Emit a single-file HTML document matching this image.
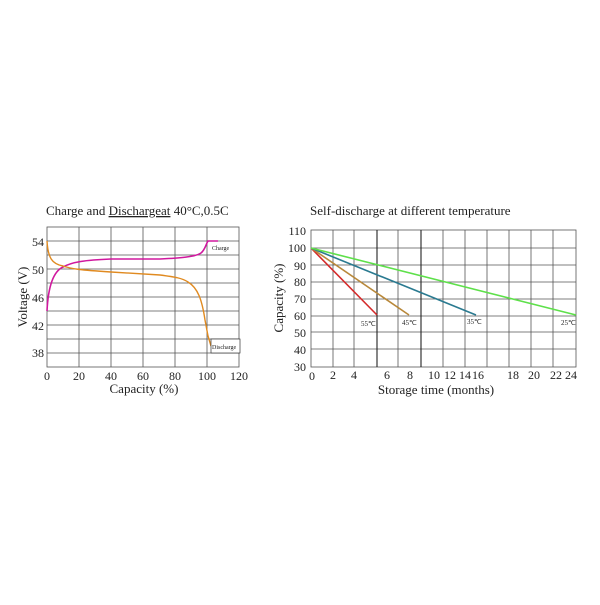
<!DOCTYPE html>
<html><head><style>
body{margin:0;background:#fff;width:600px;height:600px;overflow:hidden}
svg text{font-family:"Liberation Serif",serif;fill:#222}
</style></head><body>
<svg width="600" height="600" viewBox="0 0 600 600">
<text x="46" y="215" font-size="13">Charge and <tspan text-decoration="underline">Dischargeat</tspan> 40°C,0.5C</text>
<g stroke="#555" stroke-width="0.8">
<rect x="47" y="227" width="192" height="140" fill="none"/>
<line x1="79" y1="227" x2="79" y2="367"/><line x1="111" y1="227" x2="111" y2="367"/>
<line x1="143" y1="227" x2="143" y2="367"/><line x1="175" y1="227" x2="175" y2="367"/>
<line x1="207" y1="227" x2="207" y2="367"/>
<line x1="47" y1="241" x2="239" y2="241"/><line x1="47" y1="255" x2="239" y2="255"/>
<line x1="47" y1="269" x2="239" y2="269"/><line x1="47" y1="283" x2="239" y2="283"/>
<line x1="47" y1="297" x2="239" y2="297"/><line x1="47" y1="311" x2="239" y2="311"/>
<line x1="47" y1="325" x2="239" y2="325"/><line x1="47" y1="339" x2="239" y2="339"/>
<line x1="47" y1="353" x2="239" y2="353"/>
</g>
<path d="M47,311 C48,290 52,272 63,267 C72,262 85,260 111,259 L160,259 C180,258 195,257 201,253 C205,250 206,244 208,241 L218,241" fill="none" stroke="#d0189e" stroke-width="1.6"/>
<path d="M47,241 C48,258 52,264 63,266 C72,269 80,270 111,272 L160,275 C175,277 182,278 188,282 C198,288 202,300 205,320 L208,336 L211,346" fill="none" stroke="#e08a20" stroke-width="1.4"/>
<rect x="211" y="339" width="29" height="14" fill="#fff" stroke="#333" stroke-width="0.7"/>
<text x="212" y="349" font-size="6">Discharge</text>
<text x="212" y="250" font-size="6">Charge</text>
<g font-size="12" text-anchor="end">
<text x="44" y="246">54</text><text x="44" y="274">50</text><text x="44" y="302">46</text><text x="44" y="330">42</text><text x="44" y="357">38</text>
</g>
<g font-size="12" text-anchor="middle">
<text x="47" y="380">0</text><text x="79" y="380">20</text><text x="111" y="380">40</text><text x="143" y="380">60</text><text x="175" y="380">80</text><text x="207" y="380">100</text><text x="239" y="380">120</text>
<text x="144" y="393" font-size="13">Capacity (%)</text>
<text transform="translate(27,297) rotate(-90)" font-size="13">Voltage (V)</text>
</g>

<text x="310" y="215" font-size="13">Self-discharge at different temperature</text>
<g stroke="#555" stroke-width="0.8">
<rect x="311" y="230" width="265" height="137" fill="none"/>
<line x1="311" y1="248" x2="576" y2="248"/><line x1="311" y1="265" x2="576" y2="265"/>
<line x1="311" y1="282" x2="576" y2="282"/><line x1="311" y1="299" x2="576" y2="299"/>
<line x1="311" y1="316" x2="576" y2="316"/><line x1="311" y1="332" x2="576" y2="332"/>
<line x1="311" y1="349" x2="576" y2="349"/>
<line x1="333" y1="230" x2="333" y2="367"/><line x1="354" y1="230" x2="354" y2="367"/>
<line x1="377" y1="230" x2="377" y2="367" stroke="#222" stroke-width="1.1"/><line x1="398" y1="230" x2="398" y2="367"/>
<line x1="421" y1="230" x2="421" y2="367" stroke="#222" stroke-width="1.1"/><line x1="443" y1="230" x2="443" y2="367"/>
<line x1="465" y1="230" x2="465" y2="367"/><line x1="487" y1="230" x2="487" y2="367"/>
<line x1="509" y1="230" x2="509" y2="367"/><line x1="531" y1="230" x2="531" y2="367"/>
<line x1="553" y1="230" x2="553" y2="367"/>
</g>
<g stroke-width="1.6" fill="none">
<line x1="311" y1="248" x2="377" y2="315" stroke="#d42a2a"/>
<line x1="311" y1="248" x2="409" y2="315" stroke="#b8883a"/>
<line x1="311" y1="248" x2="476" y2="315" stroke="#2a7a90"/>
<line x1="311" y1="248" x2="576" y2="315" stroke="#5ee04a"/>
</g>
<g font-size="7"><text x="361" y="326">55℃</text><text x="402" y="325">45℃</text><text x="467" y="324">35℃</text><text x="561" y="325">25℃</text></g>
<g font-size="12" text-anchor="end">
<text x="306" y="235">110</text><text x="306" y="252">100</text><text x="306" y="270">90</text><text x="306" y="286">80</text><text x="306" y="303">70</text><text x="306" y="320">60</text><text x="306" y="337">50</text><text x="306" y="354">40</text><text x="306" y="371">30</text>
</g>
<g font-size="12" text-anchor="middle">
<text x="312" y="380">0</text><text x="333" y="379">2</text><text x="354" y="379">4</text><text x="387" y="379">6</text><text x="410" y="379">8</text><text x="434" y="379">10</text><text x="450" y="379">12</text><text x="465" y="379">14</text><text x="478" y="379">16</text><text x="513" y="379">18</text><text x="534" y="379">20</text><text x="556" y="379">22</text><text x="571" y="379">24</text>
<text x="436" y="394" font-size="13">Storage time (months)</text>
<text transform="translate(283,298) rotate(-90)" font-size="13">Capacity (%)</text>
</g>
</svg>
</body></html>
